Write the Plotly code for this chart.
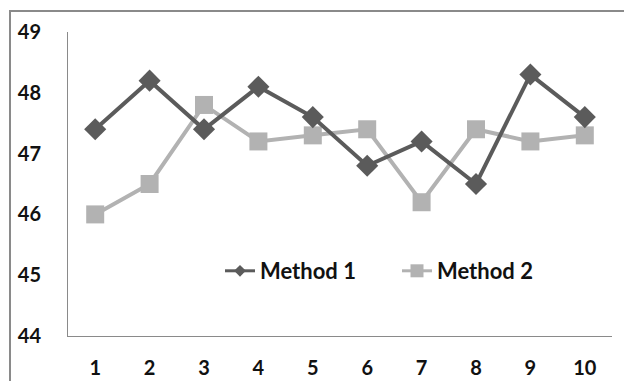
import plotly.graph_objects as go

categories = [1, 2, 3, 4, 5, 6, 7, 8, 9, 10]
method1 = [47.4, 48.2, 47.4, 48.1, 47.6, 46.8, 47.2, 46.5, 48.3, 47.6]
method2 = [46.0, 46.5, 47.8, 47.2, 47.3, 47.4, 46.2, 47.4, 47.2, 47.3]
y_ticks = [44, 45, 46, 47, 48, 49]

dark = "#5b5b5b"
light = "#b2b2b2"
font = dict(family="Lato", size=20, color="#111111", weight="bold")
legend_font = dict(family="Lato", size=22, color="#111111", weight="bold")

fig = go.Figure()
fig.add_trace(go.Scatter(x=categories, y=method2, mode="lines+markers", name="Method 2",
                         line=dict(color=light, width=4),
                         marker=dict(symbol="square", size=18, color=light),
                         showlegend=False))
fig.add_trace(go.Scatter(x=categories, y=method1, mode="lines+markers", name="Method 1",
                         line=dict(color=dark, width=4),
                         marker=dict(symbol="diamond", size=17, color=dark),
                         showlegend=False))
# legend entries
fig.add_trace(go.Scatter(x=[None], y=[None], mode="lines+markers", name="Method 1",
                         line=dict(color=dark, width=3),
                         marker=dict(symbol="diamond", size=9, color=dark)))
fig.add_trace(go.Scatter(x=[None], y=[None], mode="lines+markers", name="Method 2",
                         line=dict(color=light, width=3),
                         marker=dict(symbol="square", size=13, color=light)))

fig.update_layout(
    width=624, height=381,
    margin=dict(l=68, r=12, t=32, b=45),
    paper_bgcolor="white", plot_bgcolor="white",
    font=font,
    legend=dict(orientation="h", x=(220 - 68) / 544, y=(336 - 271) / 304,
                xanchor="left", yanchor="middle", font=legend_font,
                bgcolor="rgba(0,0,0,0)", itemwidth=30, tracegroupgap=0,
                entrywidth=132, entrywidthmode="pixels"),
    shapes=[dict(type="rect", xref="paper", yref="paper",
                 x0=(10 - 68) / 544, x1=1.2, y0=-0.5, y1=(336 - 11) / 304,
                 line=dict(color="#8a8a8a", width=2), layer="below")],
)
fig.update_xaxes(range=[0.5, 10.5], tickvals=categories, ticktext=[str(c) for c in categories],
                 showgrid=False, zeroline=False, showline=True, linecolor="#8a8a8a", linewidth=1,
                 ticks="", ticklabelstandoff=14, tickfont=font, automargin=False)
fig.update_yaxes(range=[44, 49], tickvals=y_ticks, showgrid=False, zeroline=False,
                 showline=True, linecolor="#8a8a8a", linewidth=1, ticks="",
                 ticklabelstandoff=22, tickfont=font, automargin=False)

fig.write_html("out.html")
